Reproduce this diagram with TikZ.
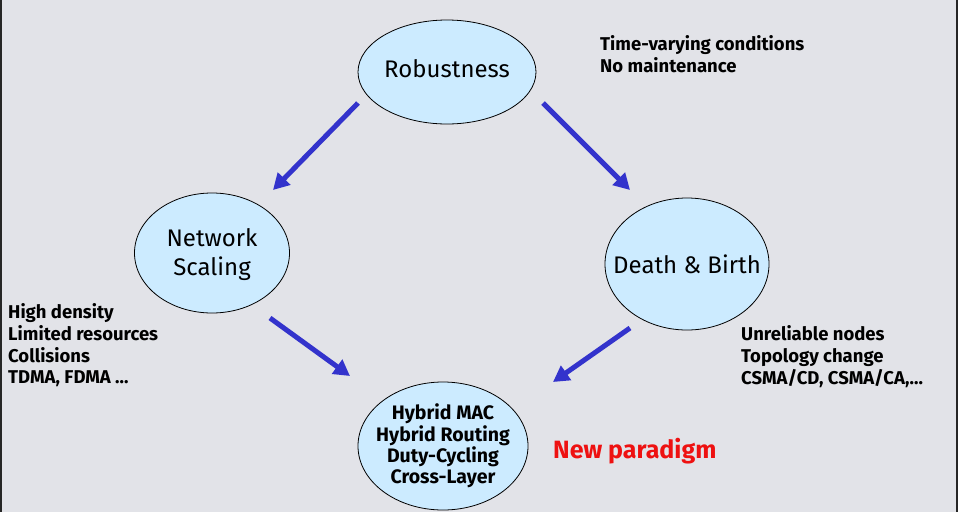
\documentclass[tikz,border=0pt]{standalone}
\usepackage{fontspec}
\setmainfont{Fira Sans}
\usetikzlibrary{arrows.meta,shapes.geometric}
\definecolor{bg}{HTML}{E2E3E8}
\definecolor{fillb}{HTML}{CCEBFF}
\definecolor{arr}{HTML}{3333CC}
\definecolor{redt}{HTML}{EE1111}
\tikzset{
  bub/.style={ellipse,draw=black,line width=0.8pt,fill=fillb,inner sep=0pt},
  bubtext/.style={align=center,inner sep=0pt,font=\fontsize{24}{29}\selectfont},
  side/.style={align=left,anchor=north west,inner sep=0pt,font=\bfseries\fontsize{18.5}{21.7}\selectfont},
  bigarr/.style={draw=arr,line width=5pt,-{Triangle[length=16pt,width=17pt]}}
}
\begin{document}
\begin{tikzpicture}[x=1pt,y=-1pt]
\useasboundingbox (0,0) rectangle (958,512);
\fill[bg] (0,0) rectangle (958,512);
\draw[line width=2pt,black!85] (1,0) -- (1,512);
\draw[line width=2pt,black!85] (957,0) -- (957,512);

\node[bub,minimum width=178pt,minimum height=104pt] (rob) at (447,72) {};
\node[bubtext] (robt) at ([yshift=3pt]rob.center) {Robustness};
\node[bub,minimum width=155pt,minimum height=120pt] (net) at (212,253) {};
\node[bubtext] (nett) at ([yshift=-2pt]net.center) {Network\\Scaling};
\node[bub,minimum width=164pt,minimum height=132pt] (db) at (687,264) {};
\node[bubtext] (dbt) at (db.center) {Death \& Birth};
\node[bub,minimum width=170pt,minimum height=128pt] (hyb) at (443,446) {};
\node[bubtext,font=\bfseries\fontsize{19.5}{21.3}\selectfont] (hybt) at (hyb.center) {Hybrid MAC\\Hybrid Routing\\Duty-Cycling\\Cross-Layer};

\node[side] (t1) at (600,35.5) {Time-varying conditions\\No maintenance};
\node[side] (t2) at (8,303.5) {High density\\Limited resources\\Collisions\\TDMA, FDMA \dots};
\node[side] (t3) at (741,325.5) {Unreliable nodes\\Topology change\\CSMA/CD, CSMA/CA,\dots};
\node[anchor=west,inner sep=0pt,text=redt,font=\bfseries\fontsize{25}{28}\selectfont] (np) at (553,451) {New paradigm};

\coordinate (a1s) at (358,103); \coordinate (a1e) at (273,190);
\coordinate (a2s) at (543,103); \coordinate (a2e) at (630,190);
\coordinate (a3s) at (270,318); \coordinate (a3e) at (350,376);
\coordinate (a4s) at (630,328); \coordinate (a4e) at (553,382);
\draw[bigarr] (a1s) -- (a1e);
\draw[bigarr] (a2s) -- (a2e);
\draw[bigarr] (a3s) -- (a3e);
\draw[bigarr] (a4s) -- (a4e);
\end{tikzpicture}
\end{document}
